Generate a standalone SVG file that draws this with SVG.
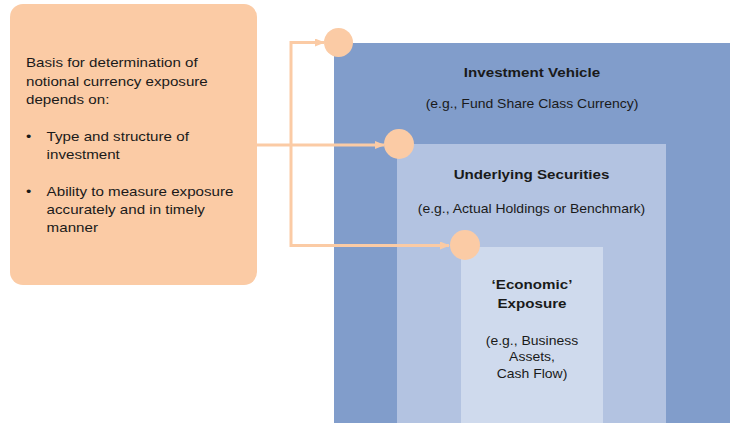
<svg xmlns="http://www.w3.org/2000/svg" width="739" height="428" viewBox="0 0 739 428">
<defs>
<style>
.t{font-family:"Liberation Sans",Arial,sans-serif;font-size:13px;fill:#1a1a1a}
.s{font-size:12px}
.b{font-weight:bold}
.m{text-anchor:middle}
.con{fill:none;stroke:#fbcba5;stroke-width:3}
.dot{fill:#fbcba5}
</style>
<marker id="ah" markerUnits="userSpaceOnUse" markerWidth="10" markerHeight="8" refX="9" refY="4" orient="auto">
<path d="M0,0 L10,4 L0,8 Z" fill="#fbcba5"/>
</marker>
</defs>
<rect width="739" height="428" fill="#ffffff"/>
<g id="investment-vehicle">
<rect x="334" y="43" width="396" height="380" fill="#819dcb"/>
<g transform="translate(532,76.7) scale(1.165,1)"><text class="t b m" x="0" y="0">Investment Vehicle</text></g>
<g transform="translate(532,108) scale(1.165,1)"><text class="t s m" x="0" y="0">(e.g., Fund Share Class Currency)</text></g>
</g>
<g id="underlying-securities">
<rect x="397" y="144" width="269" height="279" fill="#b3c3e1"/>
<g transform="translate(531.5,179.3) scale(1.165,1)"><text class="t b m" x="0" y="0">Underlying Securities</text></g>
<g transform="translate(531.5,212.5) scale(1.165,1)"><text class="t s m" x="0" y="0">(e.g., Actual Holdings or Benchmark)</text></g>
</g>
<g id="economic-exposure">
<rect x="461" y="247" width="142" height="176" fill="#cfdaed"/>
<g transform="translate(532,0) scale(1.165,1)">
<text class="t b m" x="0" y="289.3">‘Economic’</text>
<text class="t b m" x="0" y="308.3">Exposure</text>
<text class="t s m" x="0" y="345">(e.g., Business</text>
<text class="t s m" x="0" y="361.5">Assets,</text>
<text class="t s m" x="0" y="378">Cash Flow)</text>
</g>
</g>
<g id="basis-box">
<rect x="10" y="4" width="247" height="281" rx="13" ry="13" fill="#fbcba5"/>
<g transform="translate(26,0) scale(1.165,1)">
<text class="t" x="0" y="67.3">Basis for determination of</text>
<text class="t" x="0" y="85.7">notional currency exposure</text>
<text class="t" x="0" y="104">depends on:</text>
<text class="t" x="0" y="140.7">•</text>
<text class="t" x="17.7" y="140.7">Type and structure of</text>
<text class="t" x="17.7" y="159">investment</text>
<text class="t" x="0" y="195.7">•</text>
<text class="t" x="17.7" y="195.7">Ability to measure exposure</text>
<text class="t" x="17.7" y="214">accurately and in timely</text>
<text class="t" x="17.7" y="232.3">manner</text>
</g>
</g>
<g id="connectors">
<path class="con" d="M257,145 L384,145" marker-end="url(#ah)"/>
<path class="con" d="M324,42.5 L291,42.5 L291,245.5 L449,245.5" marker-end="url(#ah)"/>
<path class="con" d="M291,42.5 L324,42.5" marker-end="url(#ah)"/>
</g>
<g id="markers">
<circle class="dot" cx="338.5" cy="42.5" r="14.5"/>
<circle class="dot" cx="399" cy="144" r="15"/>
<circle class="dot" cx="465" cy="245" r="15"/>
</g>
</svg>
